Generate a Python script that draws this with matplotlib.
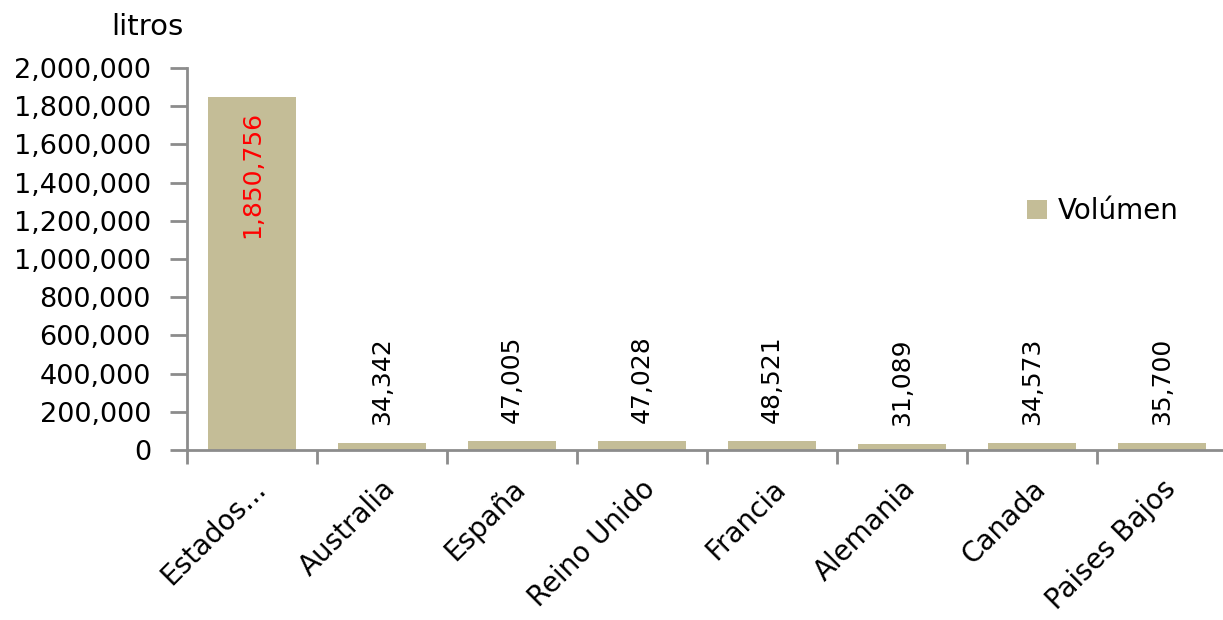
import matplotlib.pyplot as plt
import matplotlib.transforms as mtransforms
import numpy as np
from matplotlib.ticker import FuncFormatter, FixedLocator

paises = ["Estados...", "Australia", "España", "Reino Unido", "Francia",
          "Alemania", "Canada", "Paises Bajos"]
volumen = [1850756, 34342, 47005, 47028, 48521, 31089, 34573, 35700]
label_colors = ["red", "black", "black", "black", "black", "black", "black", "black"]

plt.rcParams["font.family"] = ["DejaVu Sans"]

fig = plt.figure(figsize=(12.23, 6.2), dpi=100)
# axes extends slightly past the right edge, like the original
ax = fig.add_axes([187 / 1223, 1 - 450 / 620, 1040 / 1223, 382 / 620])

x = np.arange(len(paises))
bar_color = "#C4BD97"
ax.bar(x, volumen, width=0.67, color=bar_color, label="Volúmen")

ax.set_xlim(-0.5, len(paises) - 0.5)
ax.set_ylim(0, 2000000)
ax.set_yticks(np.arange(0, 2000001, 200000))
ax.yaxis.set_major_formatter(FuncFormatter(lambda v, p: f"{int(v):,}"))

# category labels drawn as rotated texts hanging below the axis
ax.set_xticks(x)
ax.set_xticklabels([])
ax.tick_params(axis="x", which="major", length=0)
shift = mtransforms.ScaledTranslation(15 / 100, -40 / 100, fig.dpi_scale_trans)
for xi, name in zip(x, paises):
    ax.text(xi, 0, name, transform=ax.get_xaxis_transform() + shift,
            rotation=45, rotation_mode="anchor", ha="right", va="baseline",
            fontsize=20)

ax.xaxis.set_minor_locator(FixedLocator(np.arange(-0.5, len(paises), 1)))
ax.tick_params(axis="x", which="minor", length=10, width=2, color="#8c8c8c")
ax.tick_params(axis="y", length=12, width=2, color="#8c8c8c", labelsize=19.5, pad=14)

for side in ["top", "right"]:
    ax.spines[side].set_visible(False)
for side in ["left", "bottom"]:
    ax.spines[side].set_color("#8c8c8c")
    ax.spines[side].set_linewidth(2)

for xi, v, c in zip(x, volumen, label_colors):
    if v > 1000000:
        ax.text(xi, v - 75000, f"{v:,}", rotation=90, ha="center", va="top",
                color=c, fontsize=18)
    else:
        ax.text(xi, v + 95000, f"{v:,}", rotation=90, ha="center", va="bottom",
                color=c, fontsize=18)

fig.text(183 / 1223, 1 - 27 / 620, "litros", ha="right", va="center", fontsize=21)

ax.legend(loc="center left", bbox_to_anchor=(829 / 1040, 0.625), frameon=False,
          fontsize=20, handlelength=0.7, handleheight=0.7, handletextpad=0.4,
          borderaxespad=0)

fig.savefig("out.png", dpi=100)
plt.close(fig)
